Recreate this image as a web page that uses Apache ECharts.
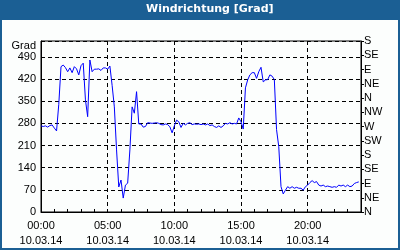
<!DOCTYPE html>
<html><head><meta charset="utf-8">
<script src="https://cdn.jsdelivr.net/npm/echarts@6/dist/echarts.min.js"></script>
<style>html,body{margin:0;padding:0;background:#fcfefd}#c{width:400px;height:250px}</style>
</head><body><div id="c"></div>
<script>
// 10-minute samples, 00:00 .. 23:50 on 10.03.14
const windDir = [272,270,272,268,273,275,265,256,340,459,
464,456,443,455,440,459,452,433,462,470,
354,301,480,443,451,451,452,447,455,455,
451,461,400,332,196,79,101,44,85,91,
196,332,312,380,278,278,268,270,282,281,
280,281,282,280,276,275,278,276,269,250,
272,290,285,267,280,275,280,282,276,278,
277,278,276,278,275,278,273,275,270,267,
272,267,272,280,278,282,278,280,278,297,
285,262,392,417,433,440,440,422,443,457,
411,417,418,433,429,418,260,206,80,57,
69,80,75,80,75,78,75,75,69,80,
85,93,99,93,96,85,82,85,80,82,
80,78,80,78,85,82,85,80,85,80,
82,90,93,95];
const dateLabel = '10.03.14';
const dirLabels = ['N','NE','E','SE','S','SW','W','NW','N','NE','E','SE','S'];
const times = [];
for (let i = 0; i <= 144; i++) {
  const h = Math.floor(i / 6), m = (i % 6) * 10;
  times.push(String(h).padStart(2, '0') + ':' + String(m).padStart(2, '0'));
}
const seriesData = windDir.concat([null]);

const chart = echarts.init(document.getElementById('c'), null, {renderer: 'canvas'});
const font = 'Liberation Sans';
const dash = {color: '#000', width: 1, type: [4, 3]};
chart.setOption({
  backgroundColor: '#fcfefd',
  animation: false,
  title: {
    text: 'Windrichtung [Grad]', left: 146, top: 4, padding: 0,
    textStyle: {color: '#fff', fontFamily: 'DejaVu Sans', fontWeight: 'bold', fontSize: 11}
  },
  graphic: [
    {type: 'rect', shape: {x: 0, y: 0, width: 400, height: 20}, style: {fill: '#1b5f94'}, z: -1},
    {type: 'rect', shape: {x: 0, y: 0, width: 2, height: 250}, style: {fill: '#1b5f94'}},
    {type: 'rect', shape: {x: 398, y: 0, width: 2, height: 250}, style: {fill: '#1b5f94'}},
    {type: 'rect', shape: {x: 0, y: 248, width: 400, height: 2}, style: {fill: '#1b5f94'}}
  ],
  grid: {left: 41, right: 39, top: 41, bottom: 38, show: true, borderColor: '#000', borderWidth: 1, backgroundColor: 'transparent'},
  xAxis: {
    type: 'category', data: times, boundaryGap: false,
    axisLine: {lineStyle: {color: '#000'}},
    axisTick: {show: true, inside: true, length: 3, interval: (i) => i % 6 === 0, lineStyle: {color: '#000'}},
    axisLabel: {
      interval: (i) => i % 30 === 0 && i < 144,
      formatter: (v) => v + '\n' + dateLabel,
      color: '#000', fontFamily: font, fontSize: 11, lineHeight: 15, margin: 6
    },
    splitLine: {show: true, interval: (i) => i % 30 === 0 && i > 0 && i < 144, lineStyle: dash}
  },
  yAxis: [
    {
      type: 'value', min: 0, max: 540, interval: 70, position: 'left',
      name: 'Grad', nameLocation: 'end', nameGap: -5,
      nameTextStyle: {color: '#000', fontFamily: font, fontSize: 11, align: 'right', verticalAlign: 'middle', padding: [0, 5, 0, 0]},
      axisLine: {show: true, lineStyle: {color: '#000'}},
      axisTick: {show: true, inside: true, length: 3, lineStyle: {color: '#000'}},
      axisLabel: {color: '#000', fontFamily: font, fontSize: 11, margin: 5, showMaxLabel: false},
      splitLine: {show: true, lineStyle: dash}
    },
    {
      type: 'value', min: 0, max: 540, interval: 45, position: 'right',
      axisLine: {show: true, lineStyle: {color: '#000'}},
      axisTick: {show: true, length: 3, lineStyle: {color: '#000'}},
      axisLabel: {color: '#000', fontFamily: font, fontSize: 11, margin: 3,
        formatter: (v) => dirLabels[Math.round(v / 45)]},
      splitLine: {show: false}
    }
  ],
  series: [{
    type: 'line', data: seriesData, yAxisIndex: 0, symbol: 'none',
    lineStyle: {color: '#0000ff', width: 1}, connectNulls: false
  }]
});
</script></body></html>
